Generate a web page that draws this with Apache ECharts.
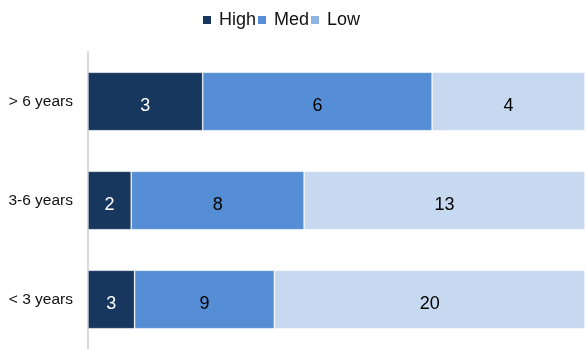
<!DOCTYPE html>
<html>
<head>
<meta charset="utf-8">
<script src="https://cdn.jsdelivr.net/npm/echarts@6/dist/echarts.min.js"></script>
<style>
  html, body { margin: 0; padding: 0; background: #fff; }
  #chart { width: 585px; height: 349px; }
</style>
</head>
<body>
<div id="chart"></div>
<script>
// Tenure groups (bottom to top on the category axis)
const categories = ['< 3 years', '3-6 years', '> 6 years'];
// Counts per risk level for each tenure group
const high = [3, 2, 3];
const med = [9, 8, 6];
const low = [20, 13, 4];

const seriesNames = ['High', 'Med', 'Low'];
const seriesColors = ['#17375e', '#558ed5', '#c6d9f1'];
const legendSwatch = ['#17375e', '#558ed5', '#8eb4e3'];
const labelColors = ['#ffffff', '#000000', '#000000'];
const counts = [high, med, low];

// Each row is shown as a share of its own total
const totals = categories.map((_, i) => high[i] + med[i] + low[i]);

const chart = echarts.init(document.getElementById('chart'), null, { renderer: 'canvas' });

chart.setOption({
  animation: false,
  textStyle: { fontFamily: 'Liberation Sans, Arial, sans-serif' },
  legend: {
    top: 11,
    left: 203,
    padding: 0,
    itemWidth: 8,
    itemHeight: 8,
    itemGap: 2,
    icon: 'rect',
    textStyle: { fontSize: 18, color: '#111', padding: [4, 0, 0, 3] },
    data: seriesNames.map((n, k) => ({ name: n, itemStyle: { color: legendSwatch[k], borderWidth: 0 } }))
  },
  grid: { left: 88, right: 0, top: 52, bottom: -2, containLabel: false },
  xAxis: {
    type: 'value',
    min: 0,
    max: 1,
    show: false
  },
  yAxis: {
    type: 'category',
    data: categories,
    axisLine: { show: true, lineStyle: { color: '#d9d9d9', width: 2 } },
    axisTick: { show: false },
    axisLabel: { fontSize: 15.5, color: '#111', margin: 15, padding: [6, 0, 0, 0] }
  },
  series: seriesNames.map((name, k) => ({
    name: name,
    type: 'bar',
    stack: 'total',
    barWidth: '59%',
    itemStyle: {
      color: seriesColors[k],
      borderColor: 'rgba(255,255,255,0.22)',
      borderWidth: 1
    },
    label: {
      show: true,
      position: 'inside',
      fontSize: 18,
      color: labelColors[k],
      offset: [0, 5],
      formatter: p => String(counts[k][p.dataIndex])
    },
    data: counts[k].map((v, i) => v / totals[i])
  }))
});
</script>
</body>
</html>
